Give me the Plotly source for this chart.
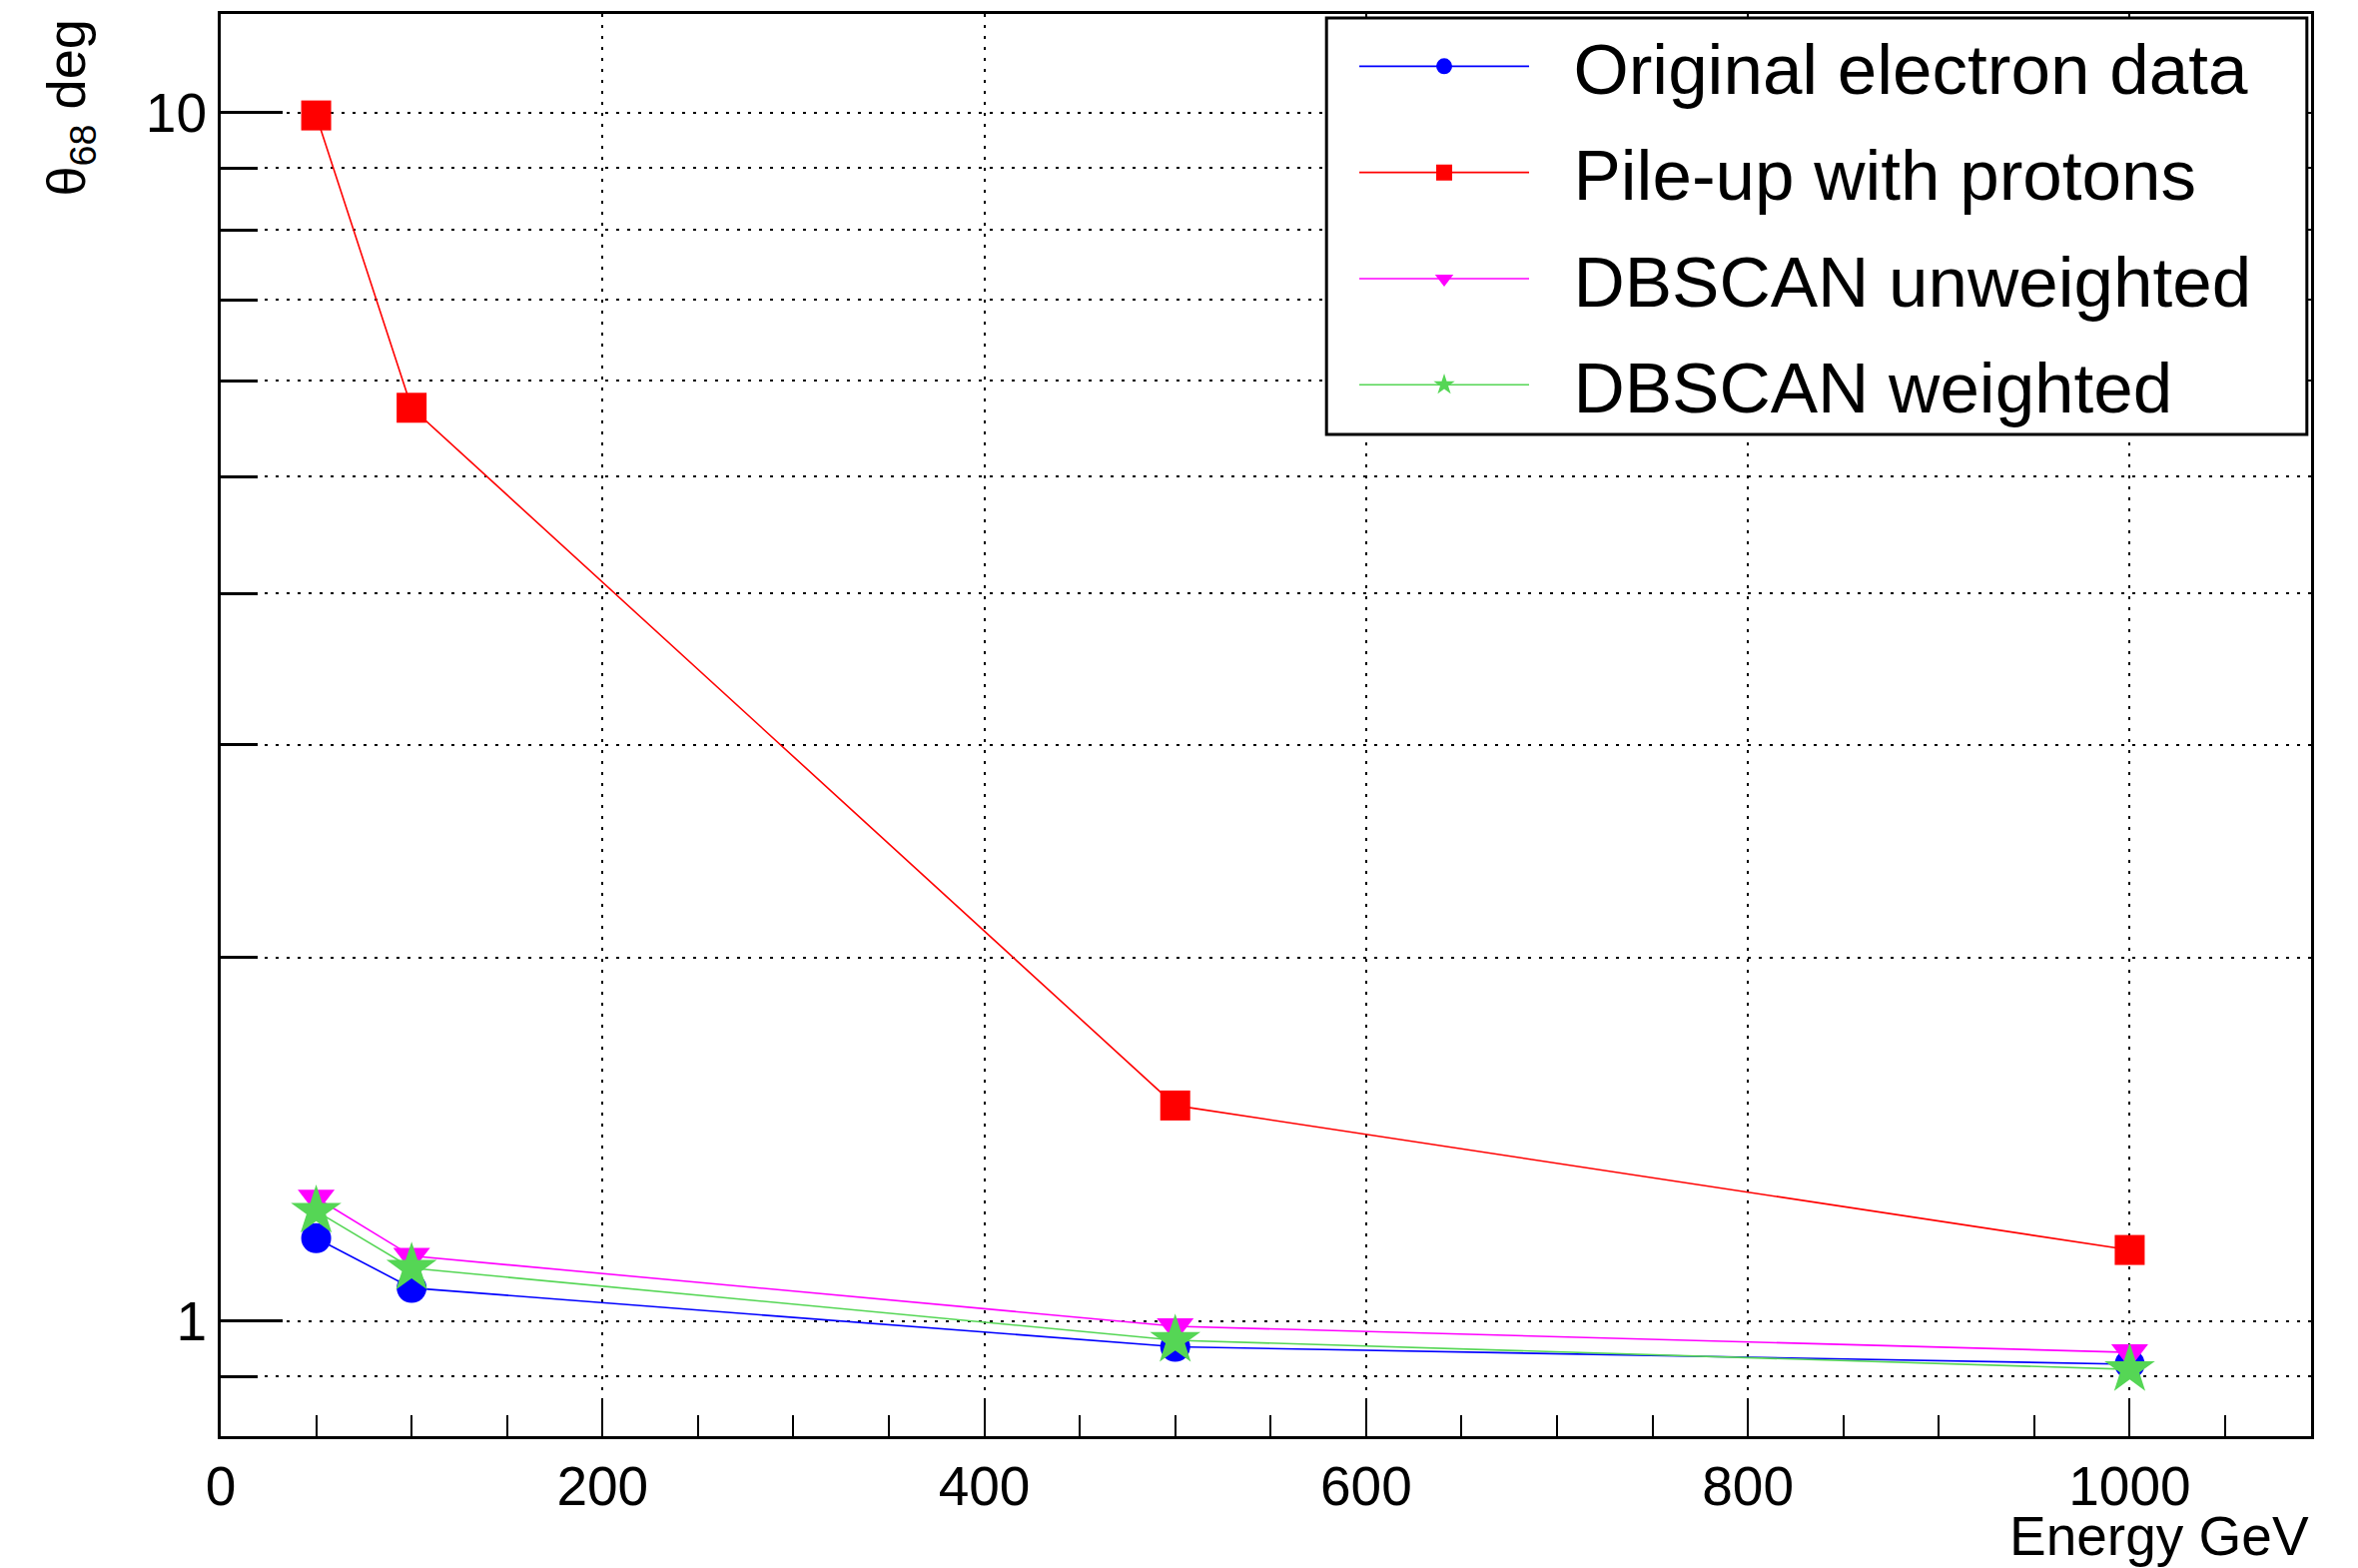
import plotly.graph_objects as go

energy = [50, 100, 500, 1000]
original_electron = [1.171, 1.065, 0.952, 0.921]
pileup_protons = [9.95, 5.70, 1.508, 1.145]
dbscan_unweighted = [1.265, 1.132, 0.99, 0.942]
dbscan_weighted = [1.233, 1.106, 0.964, 0.912]

series_names = ["Original electron data", "Pile-up with protons",
                "DBSCAN unweighted", "DBSCAN weighted"]
series_values = [original_electron, pileup_protons, dbscan_unweighted, dbscan_weighted]
colors = ["#0000ff", "#ff0000", "#ff00ff", "#55d655"]
symbols = ["circle", "square", "triangle-down", "star"]
sizes = [30, 30, 32, 38]

x_major = [0, 200, 400, 600, 800, 1000]
y_major = [1, 10]
y_minor = [0.9, 2, 3, 4, 5, 6, 7, 8, 9]

FONT = "Liberation Sans, Arial, Helvetica, sans-serif"
PAD = "\u00a0\u00a0"

fig = go.Figure()
for i, (name, vals) in enumerate(zip(series_names, series_values)):
    fig.add_trace(go.Scatter(
        x=energy, y=vals, name=PAD + name, mode="lines+markers",
        line=dict(color=colors[i], width=1.6),
        marker=dict(color=colors[i], symbol=symbols[i], size=sizes[i],
                    line=dict(width=0)),
        legendgroup=f"g{i}",
    ))

grid_dash = "3px,8px"
fig.update_layout(
    width=2361, height=1570,
    margin=dict(l=221, r=47, t=14, b=132),
    paper_bgcolor="white", plot_bgcolor="white",
    font=dict(family=FONT, color="black", size=55),
    showlegend=True,
    legend=dict(
        x=0.5423, y=1.0002, xanchor="left", yanchor="top",
        bgcolor="rgba(0,0,0,0)", borderwidth=0,
        font=dict(size=71, family=FONT, color="black"),
        itemwidth=170, tracegroupgap=11, traceorder="grouped",
        itemsizing="trace",
    ),
    shapes=[
        dict(type="rect", xref="paper", yref="paper",
             x0=0.529, x1=0.998, y0=0.7044, y1=0.9972,
             line=dict(color="black", width=3), fillcolor="white",
             layer="above"),
    ],
    xaxis=dict(
        range=[0, 1095], tickmode="array", tickvals=x_major,
        ticktext=[str(v) for v in x_major],
        ticks="inside", ticklen=36, tickwidth=2, tickcolor="black",
        showline=True, linecolor="black", linewidth=3, mirror=True,
        showgrid=True, gridcolor="black", gridwidth=2, griddash=grid_dash,
        zeroline=False,
        tickfont=dict(size=55, family=FONT),
        minor=dict(dtick=50, tick0=0, ticks="inside", ticklen=21,
                   tickwidth=2, tickcolor="black", showgrid=False),
    ),
    yaxis=dict(
        type="log", range=[-0.0953, 1.0818],
        tickmode="array", tickvals=y_major, ticktext=["1", "10"],
        ticks="inside", ticklen=62, tickwidth=3, tickcolor="black",
        showline=True, linecolor="black", linewidth=3, mirror=True,
        showgrid=True, gridcolor="black", gridwidth=2, griddash=grid_dash,
        zeroline=False,
        tickfont=dict(size=55, family=FONT),
        minor=dict(tickmode="array", tickvals=y_minor, ticks="inside",
                   ticklen=37, tickwidth=3, tickcolor="black",
                   showgrid=True, gridcolor="black", gridwidth=2,
                   griddash=grid_dash),
    ),
    annotations=[
        dict(text="Energy GeV", xref="paper", yref="paper", x=1, y=0,
             xanchor="right", yanchor="middle", yshift=-100, showarrow=False,
             font=dict(size=55, family=FONT, color="black")),
        dict(text="θ<sub>68</sub> deg", xref="paper", yref="paper", x=0, y=1,
             xanchor="center", yanchor="top", xshift=-152, yshift=-4,
             textangle=-90, showarrow=False,
             font=dict(size=54, family=FONT, color="black")),
    ],
)

fig.write_html("out.html")
